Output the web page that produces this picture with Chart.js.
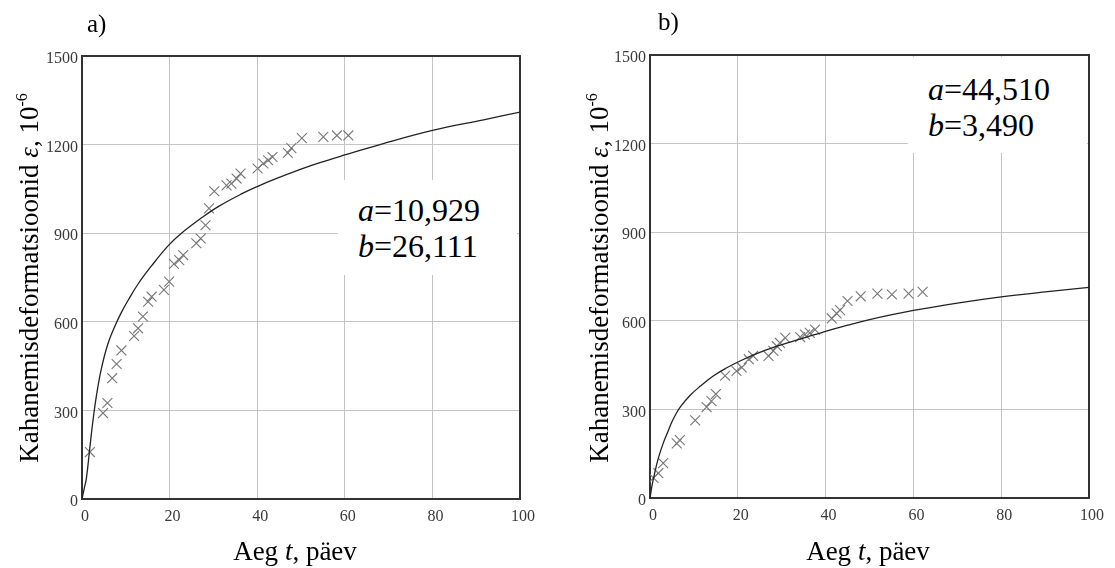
<!DOCTYPE html>
<html>
<head>
<meta charset="utf-8">
<script src="https://cdn.jsdelivr.net/npm/chart.js@4"></script>
<style>
  body { margin: 0; background: #fff; }
  #page { position: relative; width: 1115px; height: 568px; overflow: hidden; font-family: "Liberation Serif", "Times New Roman", serif; }
  canvas { position: absolute; top: 0; }
  .lbl { position: absolute; font-size: 25px; color: #000; }
  .ytitle { position: absolute; width: 460px; height: 30px; line-height: 30px; text-align: center; white-space: nowrap; font-size: 27px; transform: rotate(-90deg); }
  .xtitle { position: absolute; width: 200px; text-align: center; font-size: 27px; }
  .box { position: absolute; background: #fff; font-size: 32px; line-height: 36px; padding-left: 20px; box-sizing: border-box; }
  sup { font-size: 16px; vertical-align: 11px; }
</style>
</head>
<body>
<div id="page">
  <canvas id="chartA" width="557" height="568" style="left:0"></canvas>
  <canvas id="chartB" width="558" height="568" style="left:557px"></canvas>

  <div class="lbl" style="left:87px; top:10px">a)</div>
  <div class="lbl" style="left:658px; top:8px">b)</div>

  <div class="ytitle" style="left:-208px; top:263px">Kahanemisdeformatsioonid <i>ε</i>, 10<sup>-6</sup></div>
  <div class="ytitle" style="left:362px; top:263px">Kahanemisdeformatsioonid <i>ε</i>, 10<sup>-6</sup></div>

  <div class="xtitle" style="left:195px; top:536px">Aeg <i>t</i>, päev</div>
  <div class="xtitle" style="left:768px; top:536px">Aeg <i>t</i>, päev</div>

  <div class="box" style="left:338px; top:180px; width:179px; height:95px; padding-top:12px"><i>a</i>=10,929<br><i>b</i>=26,111</div>
  <div class="box" style="left:908px; top:57px; width:179px; height:96px; padding-top:14px"><i>a</i>=44,510<br><i>b</i>=3,490</div>
</div>

<script>
"use strict";

// axis ticks
const xTicks = [0, 20, 40, 60, 80, 100];
const yTicks = [0, 300, 600, 900, 1200, 1500];

// a) measured points
const tMeasA = [1.8, 4.8, 5.8, 6.9, 7.9, 9.0, 11.9, 12.8, 13.9, 15.1, 15.9, 18.7, 19.9, 21.0, 22.2, 23.1,
   26.1, 27.1, 28.2, 29.0, 30.2, 33.0, 34.1, 35.3, 36.2, 40.1, 41.4, 42.5, 43.5, 47.0, 47.8, 50.2, 55.1, 58.2, 60.8];
const epsMeasA = [159, 291, 325, 409, 457, 503, 552, 578, 618, 668, 685, 708, 736, 796, 809, 826,
   866, 882, 927, 984, 1042, 1062, 1068, 1085, 1102, 1119, 1136, 1147, 1158, 1172, 1188, 1222, 1226, 1231, 1231];

// a) fitted curve
const tFitA = [0, 0.5, 1.0, 1.8, 2.5, 3.3, 4.4, 5.9, 7.5, 9.0, 10.5, 12.8, 15.9, 19.7, 22.7, 27.3, 31.1, 36.4,
   40, 44, 50, 54.3, 60, 68, 80, 91.7, 100];
const epsFitA = [0, 35, 70, 175, 265, 350, 440, 525, 585, 632, 672, 728, 790, 858, 900, 952, 990, 1033,
   1058, 1083, 1117, 1139, 1165, 1200, 1248, 1284, 1310];

// b) measured points
const tMeasB = [0.8, 1.9, 3.0, 6.1, 6.8, 10.3, 12.9, 14.0, 15.0, 17.1, 19.7, 20.9, 22.5, 23.5, 27.0, 28.1,
   28.9, 29.6, 30.8, 34.2, 35.3, 36.4, 37.6, 41.4, 42.5, 43.3, 45.0, 48.0, 51.8, 55.1, 58.9, 62.1];
const epsMeasB = [68, 84, 118, 185, 196, 263, 308, 328, 352, 414, 430, 442, 470, 481, 481, 498,
   514, 525, 542, 545, 553, 559, 570, 608, 625, 636, 667, 683, 692, 689, 692, 698];

// b) fitted curve
const tFitB = [0, 0.5, 1, 1.9, 3, 4, 5, 6, 7, 9.1, 11.4, 14.4, 17.5, 20.5, 24.3, 28.1, 31.9, 35.7,
   39.5, 45, 50, 60, 70, 80, 90, 100];
const epsFitB = [0, 45, 80, 135, 185, 222, 258, 287, 310, 347, 378, 413, 441, 464, 489, 510, 528, 545,
   562, 585, 604, 635, 660, 681, 698, 713];

const toXY = (xs, ys) => xs.map((x, i) => ({ x: x, y: ys[i] }));

// frame around the plot area
const framePlugin = {
   id: "frame",
   beforeDatasetsDraw(chart) {
      const a = chart.chartArea;
      const c = chart.ctx;
      c.save();
      c.strokeStyle = "#333";
      c.lineWidth = 2;
      c.strokeRect(a.left, a.top, a.right - a.left, a.bottom - a.top);
      c.restore();
   },
};

const tickFont = { family: "'Liberation Serif', serif", size: 16 };

const makeChart = function (id, tM, eM, tF, eF, g) {
   return new Chart(document.getElementById(id), {
      type: "scatter",
      data: {
         datasets: [
            {
               data: toXY(tF, eF),
               showLine: true,
               pointRadius: 0,
               borderColor: "#222",
               borderWidth: 1.3,
               tension: 0.4,
            },
            {
               data: toXY(tM, eM),
               showLine: false,
               pointStyle: "crossRot",
               pointRadius: 7,
               borderColor: "#777",
               borderWidth: 1.1,
            },
         ],
      },
      options: {
         responsive: false,
         animation: false,
         devicePixelRatio: 1,
         layout: { padding: { top: g.top, right: g.right, left: 0, bottom: 0 } },
         plugins: { legend: { display: false }, tooltip: { enabled: false } },
         scales: {
            x: {
               type: "linear",
               min: 0,
               max: 100,
               afterBuildTicks: (s) => { s.ticks = xTicks.map((v) => ({ value: v })); },
               afterFit: (s) => { s.height = g.xh; },
               grid: { color: "#c4c4c4", lineWidth: 1, drawTicks: false },
               border: { display: false },
               ticks: { font: tickFont, color: "#3a3a3a", padding: 8, labelOffset: 3, maxRotation: 0,
                  callback: (v) => String(v) },
            },
            y: {
               type: "linear",
               min: 0,
               max: 1500,
               afterBuildTicks: (s) => { s.ticks = yTicks.map((v) => ({ value: v })); },
               afterFit: (s) => { s.width = g.yw; },
               grid: { color: "#c4c4c4", lineWidth: 1, drawTicks: false },
               border: { display: false },
               ticks: { font: tickFont, color: "#3a3a3a", padding: 4, labelOffset: 3,
                  callback: (v) => String(v) },
            },
         },
      },
      plugins: [framePlugin],
   });
};

makeChart("chartA", tMeasA, epsMeasA, tFitA, epsFitA, { top: 56, right: 37, xh: 69, yw: 82 });
makeChart("chartB", tMeasB, epsMeasB, tFitB, epsFitB, { top: 55, right: 26, xh: 70, yw: 93 });
</script>
</body>
</html>
